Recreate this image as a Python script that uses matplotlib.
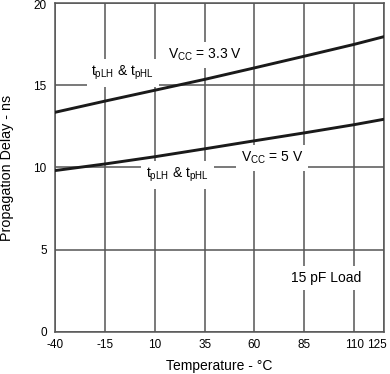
import matplotlib
matplotlib.use("Agg")
import matplotlib.pyplot as plt
import matplotlib.transforms as mtransforms

plt.rcParams['font.family'] = ['Liberation Sans', 'DejaVu Sans']
plt.rcParams['mathtext.fontset'] = 'custom'
plt.rcParams['mathtext.rm'] = 'Liberation Sans'
plt.rcParams['mathtext.default'] = 'rm'

# values (ns)
temps = [-40, -15, 10, 35, 60, 85, 110, 125]
delay_33v = [13.35, 14.03, 14.69, 15.35, 16.05, 16.76, 17.48, 17.95]
delay_5v = [9.81, 10.21, 10.65, 11.13, 11.62, 12.1, 12.6, 12.93]

xticks = [-40, -15, 10, 35, 60, 85, 110, 125]
yticks = [0, 5, 10, 15, 20]

fig = plt.figure(figsize=(3.9, 3.74), dpi=100)
ax = fig.add_axes([0.141, 0.1123, 0.844, 0.88])

ax.plot(temps, delay_33v, color='#1a1a1a', lw=2.1, zorder=3)
ax.plot(temps, delay_5v, color='#1a1a1a', lw=2.1, zorder=3)

ax.set_xlim(-40, 125)
ax.set_ylim(0, 20)
ax.set_xticks(xticks)
ax.set_yticks(yticks)
ax.set_xticklabels([str(t) for t in xticks])
ax.grid(True, color='#555555', lw=1.1)
ax.set_axisbelow(True)
ax.tick_params(length=0, labelsize=8.5, colors='black')
ax.tick_params(axis='x', pad=5)
ax.tick_params(axis='y', pad=6)
for sp in ax.spines.values():
    sp.set_color('#555555')
    sp.set_linewidth(1.1)

# nudge the end labels so they stay inside the figure
lbl = ax.get_xticklabels()[-1]
lbl.set_transform(lbl.get_transform() + mtransforms.ScaledTranslation(-7/100, 0, fig.dpi_scale_trans))
top = ax.get_yticklabels()[-1]
top.set_transform(top.get_transform() + mtransforms.ScaledTranslation(0, -2/100, fig.dpi_scale_trans))

ax.set_xlabel('Temperature - °C', fontsize=10, labelpad=5.5)
ax.set_ylabel('Propagation Delay - ns', fontsize=10.3, labelpad=14)

box = dict(facecolor='white', edgecolor='none', pad=3.5)
txt = dict(fontsize=10, ha='center', va='center', bbox=box, zorder=2)
ax.text(-6, 15.74, 't$_{pLH}$ & t$_{pHL}$', **txt)
ax.text(35, 16.84, 'V$_{CC}$ = 3.3 V', **txt)
ax.text(21.5, 9.54, 't$_{pLH}$ & t$_{pHL}$', **txt)
ax.text(68.75, 10.58, 'V$_{CC}$ = 5 V', **txt)
ax.text(96, 3.28, '15 pF Load', **txt)

fig.savefig('out.png', dpi=100)
